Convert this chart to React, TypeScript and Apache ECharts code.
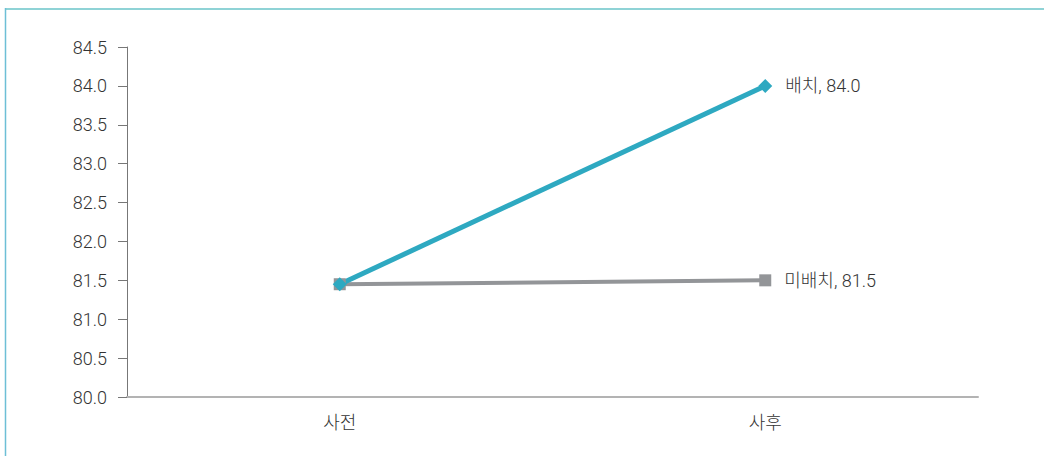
import React, { useEffect, useRef } from "react";
import * as echarts from "echarts";

const categories = ["사전", "사후"];
const deployedName = "배치";
const deployedValues = [81.45, 84.0];
const notDeployedName = "미배치";
const notDeployedValues = [81.45, 81.5];
const yMin = 80.0;
const yMax = 84.5;
const yInterval = 0.5;

export default function App() {
  const ref = useRef<HTMLDivElement>(null);
  useEffect(() => {
    const chart = echarts.init(ref.current!, null, { renderer: "svg" });
    const font = "Roboto, 'Noto Sans CJK KR', sans-serif";
    const lastLabel = (name: string) => ({
      show: true,
      position: "right" as const,
      distance: 13,
      fontFamily: font,
      fontWeight: 300,
      fontSize: 18,
      color: "#333",
      formatter: (p: any) => `${name}, ${Number(p.value).toFixed(1)}`,
    });
    const mk = (name: string, vals: number[]) =>
      vals.map((v, i) =>
        i === vals.length - 1 ? { value: v, label: lastLabel(name) } : { value: v }
      );
    chart.setOption({
      animation: false,
      grid: { left: 127, top: 47, right: 66, bottom: 59 },
      xAxis: {
        type: "category",
        data: categories,
        boundaryGap: true,
        axisLine: { lineStyle: { color: "#b3b3b3", width: 2 } },
        axisTick: { show: false },
        axisLabel: { fontFamily: font, fontWeight: 300, fontSize: 18, color: "#333", margin: 16 },
      },
      yAxis: {
        type: "value",
        min: yMin,
        max: yMax,
        interval: yInterval,
        axisLine: { show: true, lineStyle: { color: "#777", width: 1 } },
        axisTick: { show: true, length: 9, lineStyle: { color: "#777" } },
        splitLine: { show: false },
        axisLabel: {
          fontFamily: font,
          fontWeight: 300,
          fontSize: 18,
          color: "#333",
          margin: 20,
          formatter: (v: number) => v.toFixed(1),
        },
      },
      series: [
        {
          name: notDeployedName,
          type: "line",
          data: mk(notDeployedName, notDeployedValues),
          symbol: "rect",
          symbolSize: 12,
          lineStyle: { color: "#939598", width: 4 },
          itemStyle: { color: "#939598" },
        },
        {
          name: deployedName,
          type: "line",
          data: mk(deployedName, deployedValues),
          symbol: "diamond",
          symbolSize: 14,
          lineStyle: { color: "#2ea9c1", width: 5 },
          itemStyle: { color: "#2ea9c1" },
        },
      ],
      graphic: [
        {
          type: "line",
          shape: { x1: 5, y1: 9, x2: 1044, y2: 9 },
          style: { stroke: "#8fd3d6", lineWidth: 2 },
        },
        {
          type: "line",
          shape: { x1: 5.5, y1: 8, x2: 5.5, y2: 456 },
          style: { stroke: "#6dbfd6", lineWidth: 1.5 },
        },
      ],
    });
    return () => chart.dispose();
  }, []);
  return (
    <div
      ref={ref}
      style={{ position: "fixed", left: 0, top: 0, width: 1044, height: 456, background: "#fff" }}
    />
  );
}
